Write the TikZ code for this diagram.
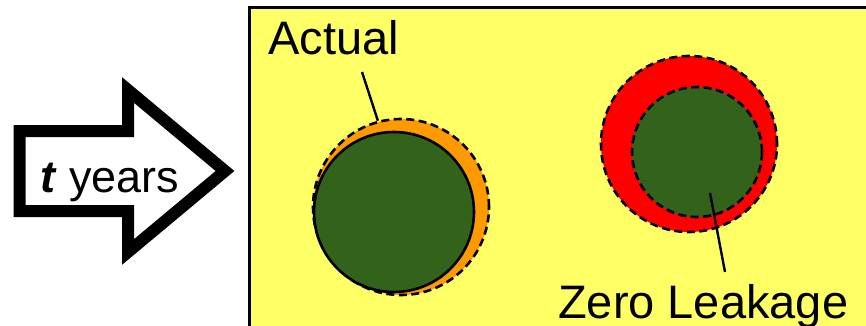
\documentclass[tikz,border=0pt]{standalone}
\usepackage{fontspec}
\setmainfont{Liberation Sans}
\definecolor{bgyellow}{RGB}{255,255,102}
\definecolor{leakorange}{RGB}{255,153,0}
\definecolor{leakred}{RGB}{255,0,0}
\definecolor{coregreen}{RGB}{51,99,27}
\tikzset{
  disk/.style={circle, inner sep=0pt, draw=black, line width=2.6pt},
  dashedrim/.style={dash pattern=on 8pt off 4.5pt},
  label/.style={inner sep=0pt, font=\fontsize{47}{54}\selectfont},
  leader/.style={draw=black, line width=2.4pt},
}
\begin{document}
\begin{tikzpicture}[x=1pt,y=-1pt]
\useasboundingbox (0,0) rectangle (866,326);
\fill[white] (0,0) rectangle (866,326);
% background panel
\begin{scope}
\clip (0,0) rectangle (866,326);
\draw[fill=bgyellow, draw=black, line width=2.5pt] (249.5,7.5) rectangle (880,340);
\end{scope}
% time arrow
\draw[line width=12pt, miter limit=10, fill=white]
  (19.5,131) -- (128,131) -- (128,90) -- (225,171) -- (128,252) -- (128,211) -- (19.5,211) -- cycle;
\node[inner sep=0pt, anchor=base west, font=\fontsize{45}{50}\selectfont] (tyears) at (40,192) {\textbf{\textit{t}} years};
% Actual
\node[disk, dashedrim, fill=leakorange, minimum size=176pt] (outerA) at (401,207) {};
\node[disk, fill=coregreen, minimum size=160pt] (innerA) at (394,212) {};
% Zero leakage
\node[disk, dashedrim, fill=leakred, minimum size=176pt] (outerZ) at (689,144) {};
\node[disk, dashedrim, fill=coregreen, minimum size=130pt] (innerZ) at (697,152) {};
% labels
\node[label, anchor=base west] (actual) at (268,55) {Actual};
\node[label, anchor=base west] (zero) at (558,318) {Zero Leakage};
\coordinate (actualFoot) at (362,72);
\coordinate (zeroTip) at (710,193);
\coordinate (zeroFoot) at (725,272);
\draw[leader] (actualFoot) -- (outerA.105);
\draw[leader] (zeroTip) -- (zeroFoot);
\end{tikzpicture}
\end{document}
